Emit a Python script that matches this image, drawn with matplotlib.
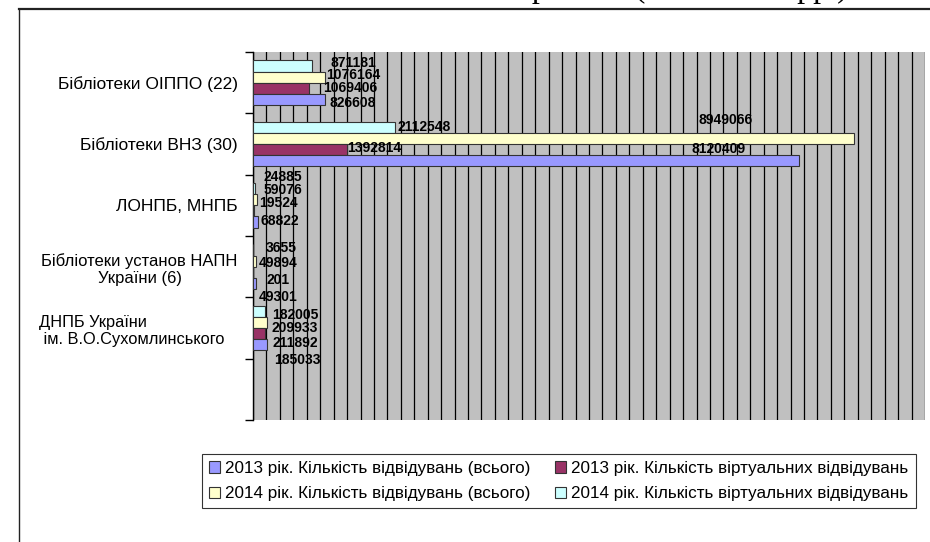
import matplotlib
matplotlib.use("Agg")
import matplotlib.pyplot as plt
import numpy as np
from matplotlib.patches import Patch
from matplotlib.lines import Line2D

# ---------------- data ----------------
categories = [
    "Бібліотеки ОІППО (22)",
    "Бібліотеки ВНЗ (30)",
    "ЛОНПБ, МНПБ",
    "Бібліотеки установ НАПН\nУкраїни (6)",
    "ДНПБ України\n ім. В.О.Сухомлинського   ",
    "",
]
series_names = [
    "2013 рік. Кількість відвідувань (всього)",
    "2013 рік. Кількість віртуальних відвідувань",
    "2014 рік. Кількість відвідувань (всього)",
    "2014 рік. Кількість віртуальних відвідувань",
]
visits_2013_total = [1069406, 8120409, 68822, 49301, 211892]
visits_2013_virtual = [826608, 1392814, 19524, 201, 185033]
visits_2014_total = [1076164, 8949066, 59076, 49894, 209933]
visits_2014_virtual = [871181, 2112548, 24885, 3655, 182005]

# data labels as they appear in each category, top to bottom
label_text = [
    ["871181", "1076164", "1069406", "826608"],
    ["2112548", "8949066", "1392814", "8120409"],
    ["24885", "59076", "19524", "68822"],
    ["3655", "49894", "201", "49301"],
    ["182005", "209933", "211892", "185033"],
]
# label placement (layout only): centre x in axis value units, y offset from category centre
label_x = [
    [1.49e6, 1.49e6, 1.45e6, 1.48e6],
    [2.545e6, 7.04e6, 1.80e6, 6.93e6],
    [0.446e6, 0.446e6, 0.372e6, 0.397e6],
    [0.417e6, 0.372e6, 0.372e6, 0.372e6],
    [0.625e6, 0.625e6, 0.625e6, 0.655e6],
]
label_dy = [
    [-0.326, -0.13, 0.091, 0.326],
    [-0.272, -0.39, 0.07, 0.085],
    [-0.457, -0.25, -0.033, 0.256],
    [-0.299, -0.064, 0.219, 0.491],
    [-0.205, -0.003, 0.251, 0.524],
]

colors = {
    "2013t": "#9999FF",
    "2013v": "#993366",
    "2014t": "#FFFFCC",
    "2014v": "#CCFFFF",
}

# ---------------- figure ----------------
W, H = 930, 542
fig = plt.figure(figsize=(W / 100, H / 100), dpi=100)
fig.patch.set_facecolor("white")
plt.rcParams["font.family"] = ["Liberation Sans", "DejaVu Sans"]

ax = fig.add_axes([253 / W, 1 - 420 / H, (925 - 253) / W, (420 - 52) / H])
ax.set_facecolor("#C0C0C0")

n = len(visits_2013_total)
y = np.arange(n)
h = 0.181
# top to bottom inside each group: 2014 virtual, 2014 total, 2013 virtual, 2013 total
order = [
    (visits_2014_virtual, colors["2014v"], -1.5),
    (visits_2014_total, colors["2014t"], -0.5),
    (visits_2013_virtual, colors["2013v"], 0.5),
    (visits_2013_total, colors["2013t"], 1.5),
]
for vals, col, off in order:
    ax.barh(y + off * h, vals, height=h, color=col, edgecolor="#333333",
            linewidth=0.8, zorder=3)

for i in range(n):
    for k in range(4):
        ax.text(label_x[i][k], i + label_dy[i][k], label_text[i][k],
                ha="center", va="center", fontsize=10, fontweight="bold",
                color="black", zorder=5)

ax.set_xlim(0, 10_000_000)
ax.set_ylim(len(categories) - 0.5, -0.5)
ax.set_xticks(np.arange(0, 10_000_001, 200_000))
ax.xaxis.grid(True, color="black", linewidth=0.9, zorder=1)
ax.set_axisbelow(True)
ax.tick_params(axis="x", bottom=False, labelbottom=False)

ax.set_yticks(np.arange(len(categories)))
ax.set_yticklabels(categories, fontsize=12.5, multialignment="center")
for lbl in ax.get_yticklabels():
    if lbl.get_text().startswith("ДНПБ"):
        lbl.set_multialignment("left")
        lbl.set_fontsize(11.8)
    elif "НАПН" in lbl.get_text():
        lbl.set_fontsize(12.0)
ax.set_yticks(np.arange(-0.5, len(categories), 1.0), minor=True)
ax.tick_params(axis="y", which="major", length=0, pad=11)
ax.tick_params(axis="y", which="minor", length=6, width=1, color="black")

for s in ["top", "right", "bottom"]:
    ax.spines[s].set_visible(False)
ax.spines["left"].set_color("black")
ax.spines["left"].set_linewidth(1.0)

# legend
handles = [
    Patch(facecolor=colors["2013t"], edgecolor="#333333", linewidth=0.8),
    Patch(facecolor=colors["2014t"], edgecolor="#333333", linewidth=0.8),
    Patch(facecolor=colors["2013v"], edgecolor="#333333", linewidth=0.8),
    Patch(facecolor=colors["2014v"], edgecolor="#333333", linewidth=0.8),
]
labels = [series_names[0], series_names[2], series_names[1], series_names[3]]
leg = fig.legend(handles, labels, ncol=2, loc="upper left",
                 bbox_to_anchor=(202 / W, 1 - 454 / H), fontsize=12.3,
                 frameon=True, fancybox=False, edgecolor="black",
                 handlelength=0.65, handleheight=0.65, handletextpad=0.3,
                 columnspacing=1.45, borderpad=0.4, labelspacing=0.62,
                 borderaxespad=0)
leg.get_frame().set_linewidth(0.8)

# outer frame lines
fig.add_artist(Line2D([19 / W, 1], [1 - 9 / H, 1 - 9 / H], color="#222222",
                      linewidth=1.6, transform=fig.transFigure))
fig.add_artist(Line2D([19 / W, 19 / W], [0, 1 - 9 / H], color="#222222",
                      linewidth=1.0, transform=fig.transFigure))

# cut-off title from the page above
fig.text(848 / W, 1 + 3 / H, "Показники роботи (2013–2014 рр.)",
         ha="right", va="baseline", fontsize=23,
         family=["Liberation Serif", "DejaVu Serif"])

fig.savefig("out.png", dpi=100, facecolor="white")
